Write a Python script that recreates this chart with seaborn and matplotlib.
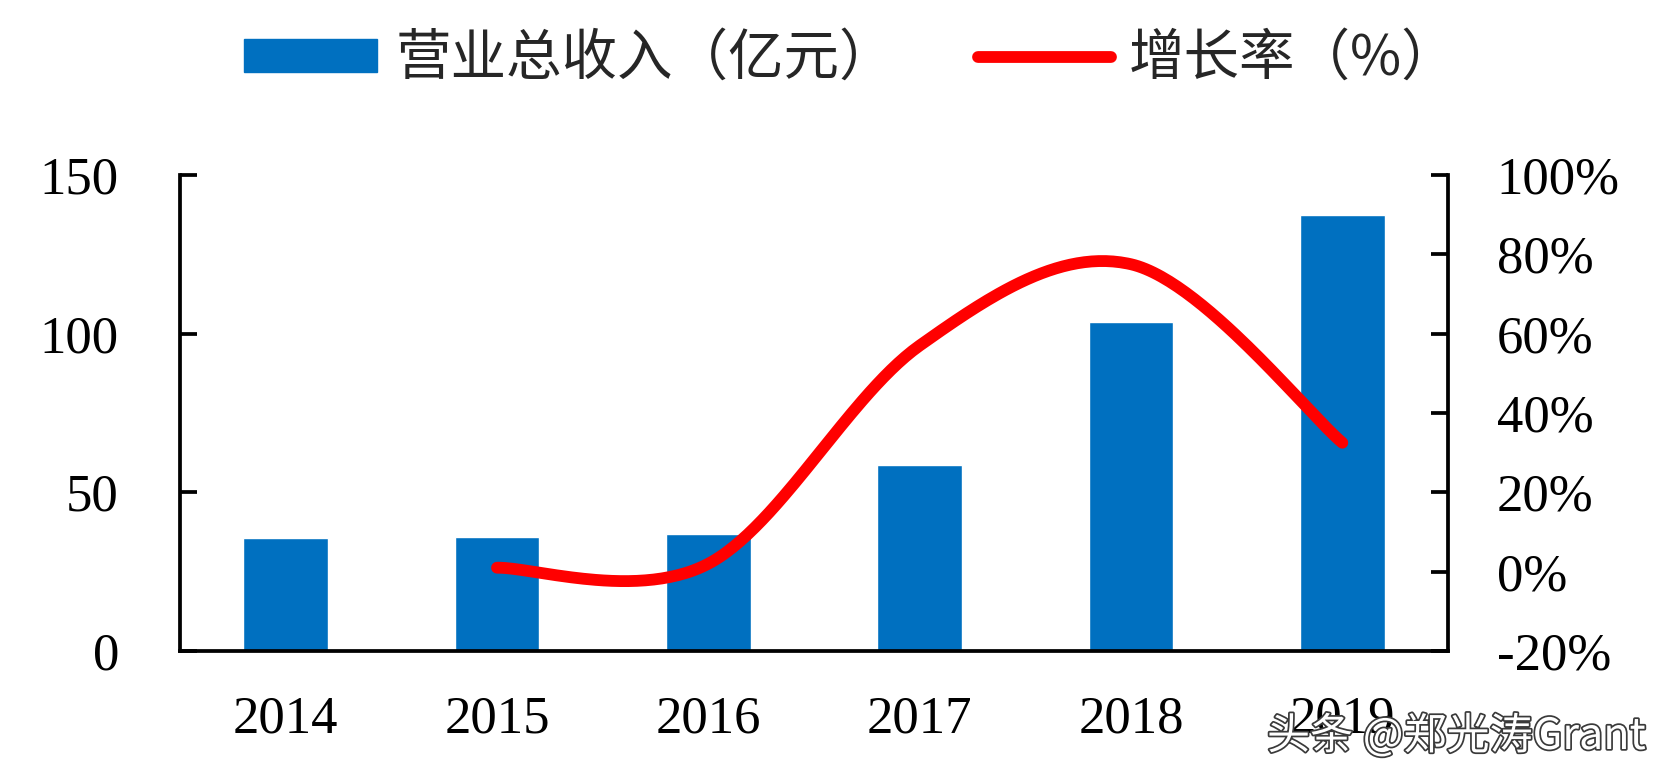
import numpy as np
import pandas as pd
import matplotlib
matplotlib.use("Agg")
import matplotlib.pyplot as plt
import matplotlib.patheffects as pe
from matplotlib.patches import Patch
from matplotlib.lines import Line2D
import seaborn as sns

# ---- data ----
years = ["2014", "2015", "2016", "2017", "2018", "2019"]
revenue = [35.6, 35.9, 36.9, 58.5, 103.7, 137.4]          # 营业总收入（亿元）
growth = [np.nan, 1.0, 2.0, 57.0, 77.5, 32.5]             # 增长率（%）
left_ticks = [0, 50, 100, 150]
right_ticks = [-20, 0, 20, 40, 60, 80, 100]
bar_label = "营业总收入（亿元）"
line_label = "增长率（%）"
watermark = "头条 @郑光涛Grant"

BLUE = "#0070C0"
RED = "#FF0000"

sns.set_style("white")
plt.rcParams["font.family"] = ["Liberation Serif", "Noto Sans CJK SC", "DejaVu Sans"]

fig = plt.figure(figsize=(16.75, 7.81), dpi=100)
ax = fig.add_axes([180 / 1675, 1 - 651 / 781, (1448 - 180) / 1675, (651 - 175) / 781])

df = pd.DataFrame({"year": years, "revenue": revenue})
sns.barplot(data=df, x="year", y="revenue", color=BLUE, saturation=1,
            width=0.4, ax=ax, zorder=2)
ax.set_xlim(-0.5, len(years) - 0.5)
ax.set_ylim(0, 150)
ax.set_yticks(left_ticks)
ax.set_xlabel("")
ax.set_ylabel("")

ax2 = ax.twinx()
ax2.set_ylim(-20, 100)
ax2.set_yticks(right_ticks)
ax2.set_yticklabels([f"{t}%" for t in right_ticks])

# smooth curve (Excel-like Catmull-Rom Bezier) through the growth points
xs = np.array([i for i, g in enumerate(growth) if not np.isnan(g)], dtype=float)
ys = np.array([g for g in growth if not np.isnan(g)], dtype=float)
pts = np.column_stack([xs, ys])
curve = []
t = np.linspace(0, 1, 60)
for i in range(len(pts) - 1):
    p0 = pts[i - 1] if i > 0 else pts[i]
    p1 = pts[i]
    p2 = pts[i + 1]
    p3 = pts[i + 2] if i + 2 < len(pts) else pts[i + 1]
    c1 = p1 + (p2 - p0) / 6
    c2 = p2 - (p3 - p1) / 6
    seg = ((1 - t) ** 3)[:, None] * p1 + (3 * (1 - t) ** 2 * t)[:, None] * c1 \
        + (3 * (1 - t) * t ** 2)[:, None] * c2 + (t ** 3)[:, None] * p2
    curve.append(seg if i == 0 else seg[1:])
curve = np.vstack(curve)
ax2.plot(curve[:, 0], curve[:, 1], color=RED, lw=8.5, solid_capstyle="round",
         solid_joinstyle="round", zorder=3)

# ---- styling ----
for a in (ax, ax2):
    a.spines["top"].set_visible(False)
    for s in a.spines.values():
        s.set_linewidth(2.7)
        s.set_color("black")
ax.spines["right"].set_visible(False)
ax2.spines["left"].set_visible(False)
ax2.spines["bottom"].set_visible(False)

ax.tick_params(axis="y", direction="in", length=12, width=2.7, pad=44,
               labelsize=38, colors="black")
ax2.tick_params(axis="y", direction="in", length=12, width=2.7, pad=35,
                labelsize=38, colors="black")
ax.set_xticks(range(len(years)))
ax.set_xticklabels(years)
ax.set_xticks(np.arange(0.5, len(years) - 0.5, 1.0), minor=True)
ax.tick_params(axis="x", which="major", length=0, pad=32, labelsize=38, colors="black")
ax.tick_params(axis="x", which="minor", direction="in", length=11, width=2.7,
               colors="black")
ax.grid(False)
ax2.grid(False)

# ---- legend ----
handles = [Patch(facecolor=BLUE, edgecolor=BLUE),
           Line2D([0], [0], color=RED, lw=8.5, solid_capstyle="round")]
fig.legend(handles, [bar_label, line_label], loc="center",
           bbox_to_anchor=(0.508, 1 - 59 / 781), ncol=2, frameon=False,
           prop={"family": ["Noto Sans CJK SC", "DejaVu Sans"], "size": 40},
           handlelength=2.4, handleheight=0.54, handletextpad=0.32,
           columnspacing=1.5, borderpad=0, borderaxespad=0)

# ---- watermark ----
fig.text(1267 / 1675, 1 - 737 / 781, watermark, ha="left", va="center",
         fontsize=31, color="white", family=["Noto Sans CJK SC", "DejaVu Sans"],
         path_effects=[pe.Stroke(linewidth=2.5, foreground="#3a3a3a"), pe.Normal()],
         zorder=10)

fig.savefig("out.png", dpi=100)
